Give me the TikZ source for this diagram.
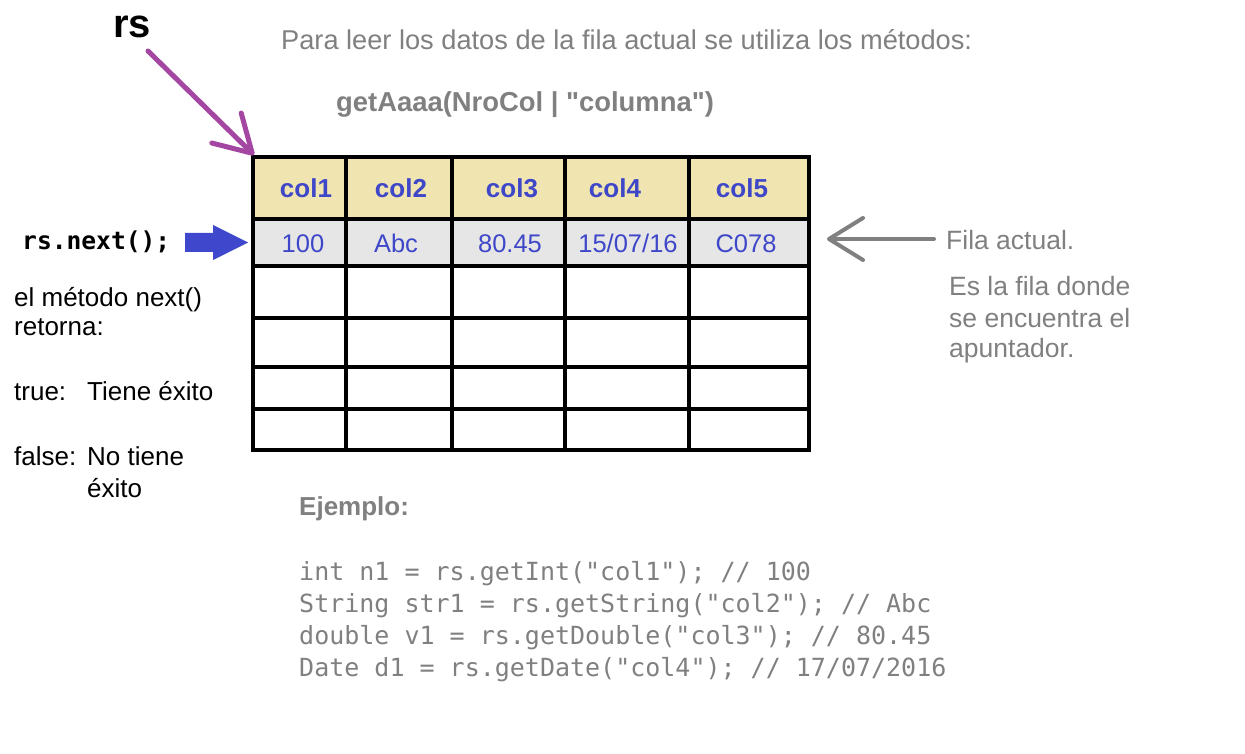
\documentclass[tikz,border=0pt]{standalone}
\usepackage{fontspec}
\setmainfont{Liberation Sans}
\setmonofont{DejaVu Sans Mono}
\usetikzlibrary{arrows.meta}
\definecolor{hdr}{HTML}{F0E4B0}
\definecolor{rowsel}{HTML}{E6E6E6}
\definecolor{tblue}{HTML}{3F47C9}
\definecolor{gtext}{HTML}{808080}
\definecolor{purp}{HTML}{A347A3}
\definecolor{barrow}{HTML}{3F48CC}
\newcommand{\fsz}[1]{\fontsize{#1}{#1}\selectfont}
\begin{document}
\begin{tikzpicture}[x=1pt,y=-1pt,
  txt/.style={inner sep=0pt,anchor=base west,font=\fsz{26}},
  gtxt/.style={txt,text=gtext,font=\fsz{26.5}},
  hcell/.style={inner sep=0pt,anchor=base,text=tblue,font=\fsz{26}\bfseries},
  dcell/.style={inner sep=0pt,anchor=base,text=tblue,font=\fsz{25.5}},
  code/.style={inner sep=0pt,anchor=base west,text=gtext,font=\fsz{25}\ttfamily},
  grid/.style={line width=4pt,black},
  thinarrow/.style={line cap=round,line join=round}
]
\useasboundingbox (0,0) rectangle (1245,754);
\fill[white] (0,0) rectangle (1245,754);

% table fills
\fill[hdr] (253,157) rectangle (809,219);
\fill[rowsel] (253,219) rectangle (809,266);
% grid lines
\foreach \yy in {219,266,318,367,409}
  \draw[grid] (253,\yy) -- (809,\yy);
\foreach \xx in {345.5,451.5,565,689}
  \draw[grid] (\xx,157) -- (\xx,450);
\draw[grid] (253,157) rectangle (809,450);

% header texts
\node[hcell] (h1) at (306,198) {col1};
\node[hcell] (h2) at (401,198) {col2};
\node[hcell] (h3) at (512,198) {col3};
\node[hcell] (h4) at (615,198) {col4};
\node[hcell] (h5) at (742,198) {col5};
% current row
\node[dcell] (d1) at (303,253) {100};
\node[dcell] (d2) at (396,253) {Abc};
\node[dcell] (d3) at (510,253) {80.45};
\node[dcell] (d4) at (628,253) {15/07/16};
\node[dcell] (d5) at (746,253) {C078};

% top texts
\node[txt,font=\fsz{40}\bfseries] (rs) at (113,38) {rs};
\node[gtxt,font=\fsz{27.2}] (intro) at (281,50) {Para leer los datos de la fila actual se utiliza los métodos:};
\node[gtxt,font=\fsz{27.4}\bfseries] (getm) at (336,112) {getAaaa(NroCol | \textquotedbl columna\textquotedbl)};

% rs arrow
\coordinate (rsfrom) at (148,51);
\coordinate (corner) at (254,155);
\draw[purp,line width=5pt,thinarrow,-{Straight Barb[length=36pt,width=42pt,round]}] (rsfrom) -- (corner);

% left side
\node[txt,font=\fsz{24.6}\ttfamily\bfseries] (next) at (22,249) {rs.next();};
\fill[barrow] (185,233) -- (213,233) -- (213,225) -- (248,242.5) -- (213,260) -- (213,252) -- (185,252) -- cycle;
\node[txt] (l1) at (14,306) {el método next()};
\node[txt] (l2) at (14,335) {retorna:};
\node[txt] (l3) at (14,400) {\makebox[73pt][l]{true:}Tiene éxito};
\node[txt] (l4) at (14,465) {\makebox[73pt][l]{false:}No tiene};
\node[txt] (l5) at (87,497) {éxito};

% right side
\coordinate (fafrom) at (934,239);
\coordinate (fato) at (827,239);
\draw[gtext,line width=4pt,thinarrow,-{Straight Barb[length=34pt,width=42pt,round]}] (fafrom) -- (fato);
\node[gtxt] (fila) at (946,249) {Fila actual.};
\node[gtxt] (es1) at (949,295) {Es la fila donde};
\node[gtxt] (es2) at (949,327) {se encuentra el};
\node[gtxt] (es3) at (949,357) {apuntador.};

% example
\node[gtxt,font=\fsz{26}\bfseries] (ej) at (299,515) {Ejemplo:};
\node[code] (c1) at (299,580) {int n1 = rs.getInt("col1"); // 100};
\node[code] (c2) at (299,612) {String str1 = rs.getString("col2"); // Abc};
\node[code] (c3) at (299,644) {double v1 = rs.getDouble("col3"); // 80.45};
\node[code] (c4) at (299,676) {Date d1 = rs.getDate("col4"); // 17/07/2016};
\end{tikzpicture}
\end{document}
